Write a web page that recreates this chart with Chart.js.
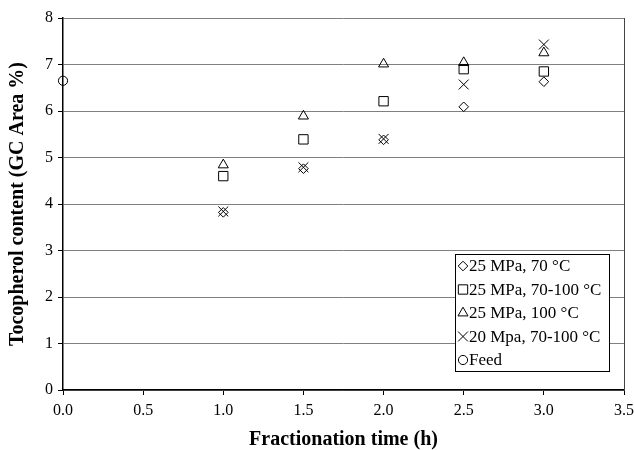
<!DOCTYPE html>
<html>
<head>
<meta charset="utf-8">
<script src="https://cdn.jsdelivr.net/npm/chart.js@4"></script>
<style>
  html, body { margin: 0; padding: 0; background: #fff; }
  #wrap { width: 634px; height: 450px; }
</style>
</head>
<body>
<div id="wrap"><canvas id="chart" width="634" height="450"></canvas></div>
<script>
// valores
const tempoH = [1.0, 1.5, 2.0, 2.5, 3.0];
const p25t70 = [3.82, 4.76, 5.38, 6.09, 6.63];
const p25t70a100 = [4.60, 5.39, 6.21, 6.90, 6.85];
const p25t100 = [4.84, 5.89, 7.01, 7.04, 7.25];
const p20t70a100 = [3.84, 4.79, 5.40, 6.57, 7.43];
const feedTempo = [0.0];
const feedValor = [6.65];

const rotulos = ["25 MPa, 70 °C", "25 MPa, 70-100 °C", "25 MPa, 100 °C", "20 Mpa, 70-100 °C", "Feed"];
const fonte = "'Liberation Serif', 'Times New Roman', serif";

function pontos(xs, ys) {
    return xs.map((x, i) => ({ x: x, y: ys[i] }));
}

function serie(label, xs, ys, estilo, raio) {
    return {
        label: label,
        data: pontos(xs, ys),
        pointStyle: estilo,
        pointRadius: raio,
        pointHoverRadius: raio,
        pointBorderColor: "#000",
        pointBackgroundColor: "rgba(0,0,0,0)",
        pointBorderWidth: 1,
        showLine: false,
        clip: false
    };
}

// legenda desenhada dentro da área do gráfico
const legendaInterna = {
    id: "legendaInterna",
    afterDraw(chart) {
        const ctx = chart.ctx;
        const area = chart.chartArea;
        const w = 154, h = 117;
        const x0 = area.right - 15 - w;
        const y0 = area.bottom - 19 - h;
        ctx.save();
        ctx.fillStyle = "#fff";
        ctx.fillRect(x0, y0, w, h);
        ctx.strokeStyle = "#000";
        ctx.lineWidth = 1;
        ctx.strokeRect(x0 + 0.5, y0 + 0.5, w, h);
        ctx.textBaseline = "middle";
        chart.data.datasets.forEach((ds, i) => {
            const cy = y0 + 12 + i * 23.5;
            ctx.fillStyle = "#fff";
            ctx.strokeStyle = "#000";
            ctx.lineWidth = 1;
            Chart.helpers.drawPoint(ctx, {
                pointStyle: ds.pointStyle,
                radius: ds.pointRadius,
                borderWidth: 1
            }, x0 + 8, cy);
            ctx.fillStyle = "#000";
            ctx.font = "17px " + fonte;
            ctx.fillText(ds.label, x0 + 14, cy + 1);
        });
        // borda direita
        ctx.strokeStyle = "#444";
        ctx.beginPath();
        ctx.moveTo(area.right + 0.5, area.top);
        ctx.lineTo(area.right + 0.5, area.bottom);
        ctx.stroke();
        ctx.restore();
    }
};

new Chart(document.getElementById("chart"), {
    type: "scatter",
    data: {
        datasets: [
            serie(rotulos[0], tempoH, p25t70, "rectRot", 4.8),
            serie(rotulos[1], tempoH, p25t70a100, "rect", 6.6),
            serie(rotulos[2], tempoH, p25t100, "triangle", 5.8),
            serie(rotulos[3], tempoH, p20t70a100, "crossRot", 7),
            serie(rotulos[4], feedTempo, feedValor, "circle", 4.6)
        ]
    },
    options: {
        responsive: false,
        animation: false,
        layout: { padding: { left: 0, right: 10, top: 18, bottom: 0 } },
        plugins: {
            legend: { display: false },
            tooltip: { enabled: false }
        },
        scales: {
            x: {
                type: "linear",
                min: 0,
                max: 3.5,
                afterFit(scale) {
                    scale.height = 60;
                    scale.paddingRight = 10;
                    scale.paddingLeft = 0;
                },
                ticks: {
                    stepSize: 0.5,
                    color: "#000",
                    padding: 6,
                    font: { family: fonte, size: 16 },
                    callback: v => v.toFixed(1)
                },
                grid: { drawOnChartArea: false, drawTicks: true, tickLength: 5, tickColor: "#000" },
                border: { color: "#000", width: 1.5 },
                title: {
                    display: true,
                    text: "Fractionation time (h)",
                    color: "#000",
                    font: { family: fonte, size: 20, weight: "bold", lineHeight: 1 },
                    padding: { top: 0, bottom: 0 }
                }
            },
            y: {
                min: 0,
                max: 8,
                afterFit(scale) { scale.width = 63; },
                ticks: {
                    stepSize: 1,
                    color: "#000",
                    padding: 5,
                    font: { family: fonte, size: 16 }
                },
                grid: { color: "#808080", lineWidth: 1, tickLength: 5, tickColor: "#000" },
                border: { color: "#000", width: 1.5 },
                title: {
                    display: true,
                    text: "Tocopherol content (GC Area %)",
                    color: "#000",
                    font: { family: fonte, size: 20, weight: "bold", lineHeight: 1 },
                    padding: { top: 8, bottom: 0 }
                }
            }
        }
    },
    plugins: [legendaInterna]
});
</script>
</body>
</html>
